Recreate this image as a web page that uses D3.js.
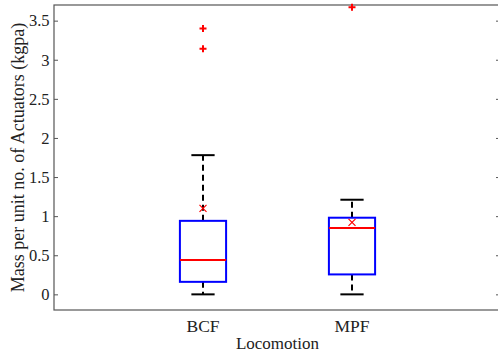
<!DOCTYPE html>
<html>
<head>
<meta charset="utf-8">
<script src="https://cdn.jsdelivr.net/npm/d3@7"></script>
<style>
  body { margin: 0; background: #fff; }
</style>
</head>
<body>
<div id="chart"></div>
<script>
var width  = 498;
var height = 356;

// data
var categories = ["BCF", "MPF"];
var lowerWhisker = [0, 0];
var q1 = [0.16, 0.255];
var median = [0.44, 0.85];
var q3 = [0.94, 0.98];
var upperWhisker = [1.78, 1.21];
var means = [1.10, 0.92];
var outliers = [[3.40, 3.14], [3.67]];
var yTicks = [0, 0.5, 1, 1.5, 2, 2.5, 3, 3.5];

var plotLeft = 54, plotRight = 501, plotTop = 5, plotBottom = 310;
var serif = "'Liberation Serif', 'Times New Roman', Times, serif";

var svg = d3.select("#chart").append("svg")
  .attr("width", width)
  .attr("height", height);

var x = d3.scaleLinear().domain([0, 3]).range([plotLeft, plotRight]);
var y = d3.scaleLinear().domain([-0.2, 3.7]).range([plotBottom, plotTop]);

var boxHalf = 0.155;  // in x units
var capHalf = 0.078;

// frame
svg.append("rect")
  .attr("x", plotLeft).attr("y", plotTop)
  .attr("width", plotRight - plotLeft).attr("height", plotBottom - plotTop)
  .style("fill", "none").style("stroke", "#555").style("stroke-width", 1.2);

// y axes (left with labels, right mirrored ticks)
var yAxis = d3.axisLeft(y).tickValues(yTicks).tickSize(-4).tickPadding(4.5)
  .tickFormat(function(d) { return d3.format("")(d); });
var gy = svg.append("g").attr("transform", "translate(" + plotLeft + ",0)").call(yAxis)
  .attr("font-family", serif).attr("font-size", 16.5);
gy.select(".domain").remove();
gy.selectAll("line").style("stroke", "#555");
gy.selectAll("text").style("fill", "#222");

var gy2 = svg.append("g").attr("transform", "translate(" + plotRight + ",0)")
  .call(d3.axisRight(y).tickValues(yTicks).tickSize(-5).tickFormat(""));
gy2.select(".domain").remove();
gy2.selectAll("line").style("stroke", "#555");

// category labels
svg.selectAll(".cat")
  .data(categories)
  .enter().append("text")
  .attr("class", "cat")
  .attr("x", function(d, i) { return x(i + 1); })
  .attr("y", 332)
  .attr("text-anchor", "middle")
  .attr("font-family", serif)
  .attr("font-size", 17.5)
  .style("fill", "#222")
  .text(function(d) { return d; });

// axis titles
svg.append("text")
  .attr("x", (plotLeft + plotRight) / 2).attr("y", 349)
  .attr("text-anchor", "middle")
  .attr("font-family", serif).attr("font-size", 17)
  .style("fill", "#222")
  .text("Locomotion");

svg.append("text")
  .attr("transform", "translate(24,157.5) rotate(-90)")
  .attr("text-anchor", "middle")
  .attr("font-family", serif).attr("font-size", 18)
  .style("fill", "#222")
  .text("Mass per unit no. of Actuators (kgpa)");

var g = svg.selectAll(".box")
  .data(categories)
  .enter().append("g")
  .attr("class", "box");

// whiskers
g.append("line")
  .attr("x1", function(d, i) { return x(i + 1); })
  .attr("x2", function(d, i) { return x(i + 1); })
  .attr("y1", function(d, i) { return y(q3[i]); })
  .attr("y2", function(d, i) { return y(upperWhisker[i]); })
  .style("stroke", "black").style("stroke-width", 2).style("stroke-dasharray", "6,4");
g.append("line")
  .attr("x1", function(d, i) { return x(i + 1); })
  .attr("x2", function(d, i) { return x(i + 1); })
  .attr("y1", function(d, i) { return y(q1[i]); })
  .attr("y2", function(d, i) { return y(lowerWhisker[i]); })
  .style("stroke", "black").style("stroke-width", 2).style("stroke-dasharray", "6,4");

// caps
[upperWhisker, lowerWhisker].forEach(function(arr) {
  g.append("line")
    .attr("x1", function(d, i) { return x(i + 1 - capHalf); })
    .attr("x2", function(d, i) { return x(i + 1 + capHalf); })
    .attr("y1", function(d, i) { return y(arr[i]); })
    .attr("y2", function(d, i) { return y(arr[i]); })
    .style("stroke", "black").style("stroke-width", 2);
});

// boxes
g.append("rect")
  .attr("x", function(d, i) { return x(i + 1 - boxHalf); })
  .attr("width", function(d, i) { return x(i + 1 + boxHalf) - x(i + 1 - boxHalf); })
  .attr("y", function(d, i) { return y(q3[i]); })
  .attr("height", function(d, i) { return y(q1[i]) - y(q3[i]); })
  .style("fill", "none").style("stroke", "blue").style("stroke-width", 2);

// medians
g.append("line")
  .attr("x1", function(d, i) { return x(i + 1 - boxHalf); })
  .attr("x2", function(d, i) { return x(i + 1 + boxHalf); })
  .attr("y1", function(d, i) { return y(median[i]); })
  .attr("y2", function(d, i) { return y(median[i]); })
  .style("stroke", "red").style("stroke-width", 2);

// means (x marker)
g.append("path")
  .attr("d", function(d, i) {
    var cx = x(i + 1), cy = y(means[i]), s = 3.5;
    return "M" + (cx - s) + "," + (cy - s) + "L" + (cx + s) + "," + (cy + s) +
      "M" + (cx - s) + "," + (cy + s) + "L" + (cx + s) + "," + (cy - s);
  })
  .style("stroke", "red").style("stroke-width", 1.2).style("fill", "none");

// outliers (+ marker)
g.each(function(d, i) {
  d3.select(this).selectAll(".out")
    .data(outliers[i])
    .enter().append("path")
    .attr("class", "out")
    .attr("d", function(v) {
      var cx = x(i + 1), cy = y(v), s = 3.5;
      return "M" + (cx - s) + "," + cy + "L" + (cx + s) + "," + cy +
        "M" + cx + "," + (cy - s) + "L" + cx + "," + (cy + s);
    })
    .style("stroke", "red").style("stroke-width", 2).style("fill", "none");
});
</script>
</body>
</html>
